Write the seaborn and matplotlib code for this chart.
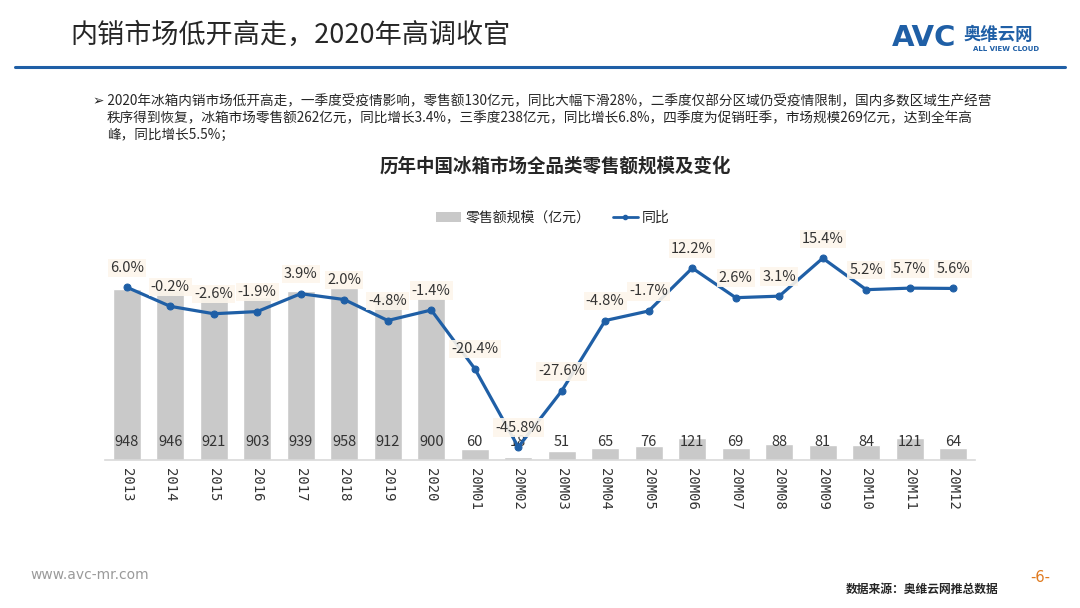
import numpy as np
import pandas as pd
import matplotlib
matplotlib.use("Agg")
import matplotlib.pyplot as plt
import seaborn as sns
from matplotlib.patches import Patch
from matplotlib.lines import Line2D

categories = ["2013", "2014", "2015", "2016", "2017", "2018", "2019", "2020",
              "20M01", "20M02", "20M03", "20M04", "20M05", "20M06", "20M07",
              "20M08", "20M09", "20M10", "20M11", "20M12"]
sales = [948, 946, 921, 903, 939, 958, 912, 900, 60, 18, 51, 65, 76, 121, 69, 88, 81, 84, 121, 64]
yoy = [6.0, -0.2, -2.6, -1.9, 3.9, 2.0, -4.8, -1.4, -20.4, -45.8, -27.6, -4.8, -1.7, 12.2,
       2.6, 3.1, 15.4, 5.2, 5.7, 5.6]
sales_labels = ["948", "946", "921", "903", "939", "958", "912", "900", "60", "18", "51",
                "65", "76", "121", "69", "88", "81", "84", "121", "64"]

sns.set_theme(style="white")
plt.rcParams['font.family'] = ['Noto Sans CJK SC', 'DejaVu Sans']

BLUE = "#1F5FA6"
BAR = "#C9C9C9"

fig = plt.figure(figsize=(10.8, 6.08), dpi=100)
fig.patch.set_facecolor("white")

df = pd.DataFrame({"cat": categories, "sales": sales, "yoy": yoy})

ax = fig.add_axes([105/1080, 148/608, 870/1080, 216/608])
sns.barplot(data=df, x="cat", y="sales", color=BAR, width=0.64, ax=ax, saturation=1)
ax.set_ylim(0, 1200)
ax.set_xlim(-0.5, len(categories) - 0.5)
ax.set_yticks([])
ax.set_xlabel("")
ax.set_ylabel("")
for s in ["top", "left", "right"]:
    ax.spines[s].set_visible(False)
ax.spines["bottom"].set_color("#D9D9D9")
ax.spines["bottom"].set_linewidth(1.2)
ax.tick_params(axis="x", length=0, pad=6)
ax.set_xticks(range(len(categories)))
ax.set_xticklabels(categories, rotation=-90, fontsize=10, color="#333333",
                   family=['DejaVu Sans Mono'])
ax.set_facecolor("none")

for i, lab in enumerate(sales_labels):
    ax.annotate(lab, xy=(i, 0), xytext=(0, 8), textcoords="offset points",
                ha="center", va="bottom", fontsize=10.5, color="#333333", zorder=5)

ax2 = ax.twinx()
sns.lineplot(x=np.arange(len(yoy)), y=yoy, ax=ax2, color=BLUE, linewidth=2.3,
             marker="o", markersize=5, markeredgecolor=BLUE, zorder=4)
ax2.set_ylim(-50, 20)
ax2.set_yticks([])
for s in ["top", "left", "right", "bottom"]:
    ax2.spines[s].set_visible(False)
ax2.set_ylabel("")

for i, v in enumerate(yoy):
    ax2.annotate(f"{v:.1f}%", xy=(i, v), xytext=(0, 9), textcoords="offset points",
                 ha="center", va="bottom", fontsize=10.5, color="#333333", zorder=6,
                 bbox=dict(boxstyle="square,pad=0.15", fc="#FDF6EC", ec="none", alpha=0.9))

# Legend
handles = [Patch(facecolor=BAR, edgecolor="none", label="零售额规模（亿元）"),
           Line2D([0], [0], color=BLUE, lw=2, marker="o", markersize=3, label="同比")]
fig.legend(handles=handles, loc="center", bbox_to_anchor=(553/1080, 1 - 218/608), ncol=2,
           frameon=False, fontsize=10, handlelength=1.8, columnspacing=1.6,
           handletextpad=0.3)

# Header
fig.text(70/1080, 1 - 35/608, "内销市场低开高走，2020年高调收官", fontsize=19.5,
         ha="left", va="center", color="#262626")
fig.add_artist(Line2D([15/1080, 1065/1080], [1 - 67/608, 1 - 67/608], color=BLUE, lw=2.2))
fig.text(892/1080, 1 - 38/608, "AVC", fontsize=21, fontweight="heavy", color="#1F5FA6",
         ha="left", va="center", family=['DejaVu Sans'])
fig.text(964/1080, 1 - 35/608, "奥维云网", fontsize=12.5, fontweight="bold", color="#1F5FA6",
         ha="left", va="center")
fig.text(973/1080, 1 - 49/608, "ALL VIEW CLOUD", fontsize=5, color="#1F5FA6",
         ha="left", va="center", family=['DejaVu Sans'], fontweight="bold")

# Paragraph
para = ["➢ 2020年冰箱内销市场低开高走，一季度受疫情影响，零售额130亿元，同比大幅下滑28%，二季度仅部分区域仍受疫情限制，国内多数区域生产经营",
        "秩序得到恢复，冰箱市场零售额262亿元，同比增长3.4%，三季度238亿元，同比增长6.8%，四季度为促销旺季，市场规模269亿元，达到全年高",
        "峰，同比增长5.5%；"]
ys = [101, 118, 135]
for k, (line, y) in enumerate(zip(para, ys)):
    x0 = 93 if k == 0 else 107
    fig.text(x0/1080, 1 - y/608, line, fontsize=9.8, ha="left", va="center", color="#262626",
             family=['Noto Sans CJK SC', 'DejaVu Sans'])

# Chart title
fig.text(555/1080, 1 - 166/608, "历年中国冰箱市场全品类零售额规模及变化", fontsize=13.3,
         fontweight="bold", ha="center", va="center", color="#262626")

# Footer
fig.text(30/1080, 1 - 575/608, "www.avc-mr.com", fontsize=10, color="#9A9A9A", ha="left",
         va="center", family=['DejaVu Sans'])
fig.text(1040/1080, 1 - 577/608, "-6-", fontsize=10.5, color="#E07B20", ha="center", va="center",
         family=['DejaVu Sans'])
fig.text(998/1080, 1 - 589/608, "数据来源：奥维云网推总数据", fontsize=8.5, color="#262626",
         ha="right", va="center", fontweight="bold")

fig.savefig("out.png", dpi=100)
